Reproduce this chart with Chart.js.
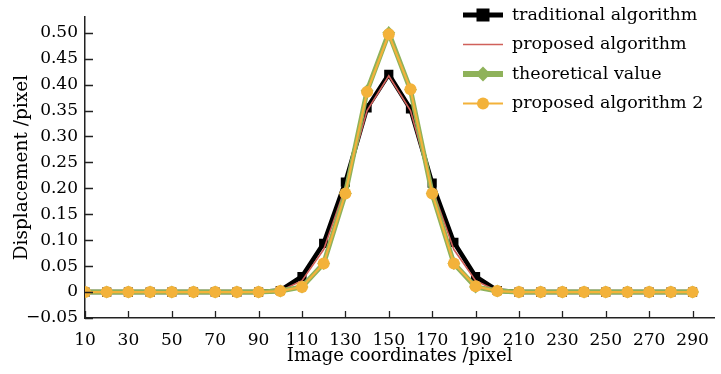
<!DOCTYPE html>
<html>
<head>
<meta charset="utf-8">
<script src="https://cdn.jsdelivr.net/npm/chart.js@4"></script>
<style>
  html, body { margin: 0; padding: 0; background: #fff; }
  #wrap { width: 721px; height: 374px; }
</style>
</head>
<body>
<div id="wrap"><canvas id="mychart"></canvas></div>
<script>
// x positions (image coordinates)
var coords = [10, 20, 30, 40, 50, 60, 70, 80, 90, 100, 110, 120, 130, 140, 150,
              160, 170, 180, 190, 200, 210, 220, 230, 240, 250, 260, 270, 280, 290];

// series
var traditional = [0, 0, 0, 0, 0, 0, 0, 0, 0, 0.003, 0.03, 0.094, 0.212, 0.355, 0.42,
                   0.353, 0.21, 0.096, 0.03, 0.003, 0, 0, 0, 0, 0, 0, 0, 0, 0];
var proposed = [0, 0, 0, 0, 0, 0, 0, 0, 0, 0.002, 0.022, 0.082, 0.202, 0.35, 0.417,
                0.35, 0.2, 0.082, 0.022, 0.002, 0, 0, 0, 0, 0, 0, 0, 0, 0];
var theoretical = [0, 0, 0, 0, 0, 0, 0, 0, 0, 0.002, 0.01, 0.055, 0.19, 0.388, 0.5,
                   0.39, 0.19, 0.055, 0.01, 0.002, 0, 0, 0, 0, 0, 0, 0, 0, 0];
var proposed2 = [0, 0, 0, 0, 0, 0, 0, 0, 0, 0.002, 0.01, 0.055, 0.19, 0.386, 0.497,
                 0.391, 0.19, 0.055, 0.011, 0.002, 0, 0, 0, 0, 0, 0, 0, 0, 0];

// tick labels
var xTicks = [10, 30, 50, 70, 90, 110, 130, 150, 170, 190, 210, 230, 250, 270, 290];
var yTicks = [-0.05, 0, 0.05, 0.10, 0.15, 0.20, 0.25, 0.30, 0.35, 0.40, 0.45, 0.50];

var FONT = "'DejaVu Serif', 'Liberation Serif', serif";

function pts(ys) {
    return coords.map(function (x, i) { return {x: x, y: ys[i]}; });
}

// ticks drawn inward, like the original plot
var innerTicks = {
    id: 'innerTicks',
    afterDraw: function (chart) {
        var ctx = chart.ctx, xs = chart.scales.x, ys = chart.scales.y;
        var area = chart.chartArea;
        ctx.save();
        ctx.strokeStyle = '#222';
        ctx.lineWidth = 1.3;
        ctx.beginPath();
        xTicks.forEach(function (v) {
            var px = Math.round(xs.getPixelForValue(v)) + 0.5;
            ctx.moveTo(px, area.bottom);
            ctx.lineTo(px, area.bottom - 7);
        });
        yTicks.forEach(function (v) {
            var py = Math.round(ys.getPixelForValue(v)) + 0.5;
            ctx.moveTo(area.left, py);
            ctx.lineTo(area.left + 8, py);
        });
        ctx.stroke();
        ctx.restore();
    }
};

// legend drawn inside the plot area, top right
var legendBox = {
    id: 'legendBox',
    afterDraw: function (chart) {
        var ctx = chart.ctx;
        var x0 = 463, x1 = 503, tx = 512, y0 = 15, dy = 29.5;
        ctx.save();
        chart.data.datasets.forEach(function (ds, i) {
            var y = y0 + i * dy;
            ctx.strokeStyle = ds.borderColor;
            ctx.lineWidth = ds.legendWidth;
            ctx.beginPath();
            ctx.moveTo(x0, y);
            ctx.lineTo(x1, y);
            ctx.stroke();
            var r = ds.pointRadius;
            var cx = (x0 + x1) / 2;
            ctx.fillStyle = ds.pointBackgroundColor;
            if (r > 0) {
                ctx.beginPath();
                if (ds.pointStyle === 'rect') {
                    ctx.fillRect(cx - r, y - r, 2 * r, 2 * r);
                } else if (ds.pointStyle === 'rectRot') {
                    ctx.moveTo(cx, y - r - 1);
                    ctx.lineTo(cx + r + 1, y);
                    ctx.lineTo(cx, y + r + 1);
                    ctx.lineTo(cx - r - 1, y);
                    ctx.closePath();
                    ctx.fill();
                } else {
                    ctx.arc(cx, y, r, 0, Math.PI * 2);
                    ctx.fill();
                }
            }
            ctx.fillStyle = '#000';
            ctx.font = '17.5px ' + FONT;
            ctx.textBaseline = 'middle';
            ctx.textAlign = 'left';
            ctx.fillText(ds.label, tx, y);
        });
        ctx.restore();
    }
};

var ctx = document.getElementById('mychart');

var mychart = new Chart(ctx, {
    type: 'line',
    data: {
        datasets: [
            {
                label: 'traditional algorithm',
                data: pts(traditional),
                borderColor: '#000000',
                backgroundColor: '#000000',
                pointBackgroundColor: '#000000',
                pointBorderWidth: 0,
                borderWidth: 4.5,
                legendWidth: 5,
                pointStyle: 'rect',
                pointRadius: 6.5,
                order: 4
            },
            {
                label: 'proposed algorithm',
                data: pts(proposed),
                borderColor: '#d0605a',
                backgroundColor: '#d0605a',
                pointBackgroundColor: '#d0605a',
                borderWidth: 1.6,
                legendWidth: 1.6,
                pointRadius: 0,
                order: 3
            },
            {
                label: 'theoretical value',
                data: pts(theoretical),
                borderColor: '#8fb25a',
                backgroundColor: '#8fb25a',
                pointBackgroundColor: '#8fb25a',
                pointBorderWidth: 0,
                borderWidth: 5,
                legendWidth: 6,
                pointStyle: 'rectRot',
                pointRadius: 6.5,
                order: 2
            },
            {
                label: 'proposed algorithm 2',
                data: pts(proposed2),
                borderColor: '#f3b23a',
                backgroundColor: '#f3b23a',
                pointBackgroundColor: '#f3b23a',
                pointBorderWidth: 0,
                borderWidth: 2.2,
                legendWidth: 2.2,
                pointStyle: 'circle',
                pointRadius: 6,
                order: 1
            }
        ]
    },
    options: {
        responsive: true,
        maintainAspectRatio: false,
        animation: false,
        layout: { padding: { top: 15, right: 0, left: 0, bottom: 0 } },
        plugins: {
            legend: { display: false },
            tooltip: { enabled: false }
        },
        scales: {
            x: {
                type: 'linear',
                min: 10,
                max: 300,
                afterBuildTicks: function (scale) {
                    scale.ticks = xTicks.map(function (v) { return {value: v}; });
                },
                afterFit: function (scale) { scale.height = 56; },
                grid: { display: false, drawTicks: false },
                border: { display: true, color: '#222', width: 1.5 },
                ticks: {
                    color: '#000',
                    padding: 12,
                    maxRotation: 0,
                    autoSkip: false,
                    font: { family: FONT, size: 17 }
                },
                title: {
                    display: true,
                    text: 'Image coordinates /pixel',
                    color: '#000',
                    padding: { top: 0, bottom: 7 },
                    font: { family: FONT, size: 18 }
                }
            },
            y: {
                min: -0.05,
                max: 0.53,
                afterBuildTicks: function (scale) {
                    scale.ticks = yTicks.map(function (v) { return {value: v}; });
                },
                afterFit: function (scale) { scale.width = 85; },
                grid: { display: false, drawTicks: false },
                border: { display: true, color: '#222', width: 1.5 },
                ticks: {
                    color: '#000',
                    padding: 7,
                    font: { family: FONT, size: 17 },
                    callback: function (v) {
                        if (Math.abs(v) < 1e-9) return '0';
                        var s = Math.abs(v).toFixed(2);
                        return v < 0 ? '\u2212' + s : s;
                    }
                },
                title: {
                    display: true,
                    text: 'Displacement /pixel',
                    color: '#000',
                    padding: { top: 11, bottom: 0 },
                    font: { family: FONT, size: 18.5 }
                }
            }
        }
    },
    plugins: [innerTicks, legendBox]
});
</script>
</body>
</html>
